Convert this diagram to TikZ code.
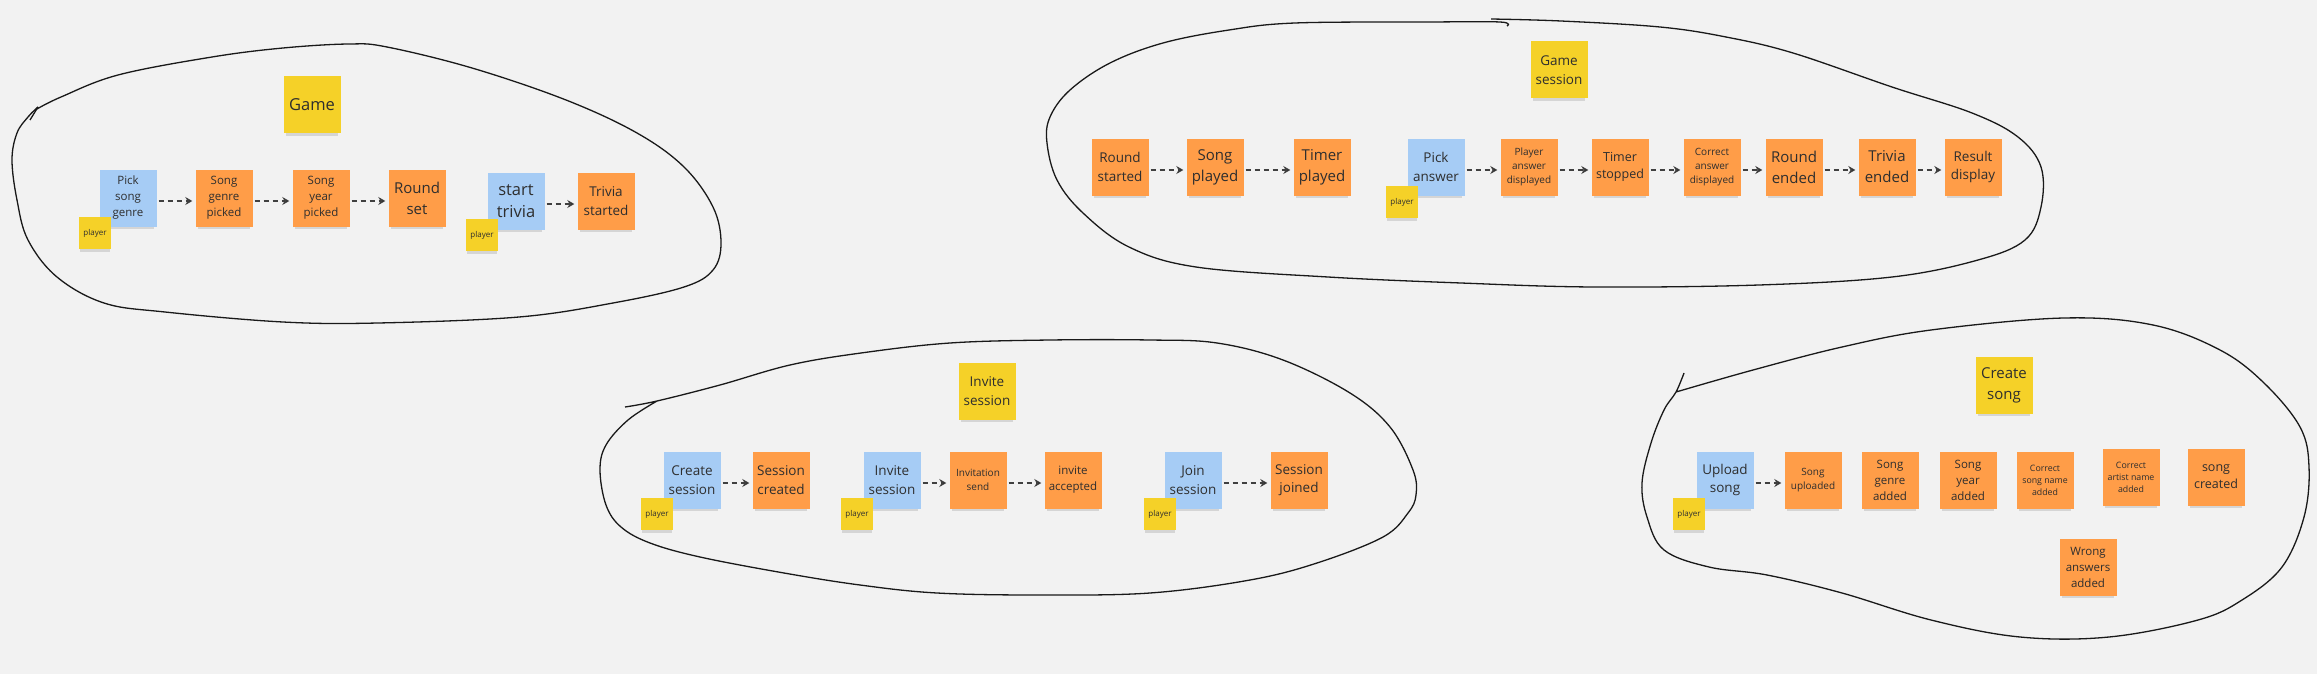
\documentclass[tikz,border=0pt]{standalone}
\usepackage{fontspec}
\setmainfont{Open Sans}
\usetikzlibrary{positioning,shadows,arrows.meta}

\definecolor{board}{HTML}{F2F2F2}
\definecolor{orangenote}{HTML}{FF9D48}
\definecolor{bluenote}{HTML}{A6CCF5}
\definecolor{yellownote}{HTML}{F5D128}
\definecolor{ink}{HTML}{2E2E2E}

\begin{document}
\begin{tikzpicture}[x=1pt,y=-1pt,node distance=96pt,
  >={Stealth[length=7pt,width=8pt]},
  note/.style={rectangle,minimum width=57pt,minimum height=57pt,inner sep=1pt,
    align=center,text=ink,
    drop shadow={shadow xshift=0pt,shadow yshift=-5pt,shadow scale=0.92,opacity=0.25}},
  event/.style={note,fill=orangenote},
  command/.style={note,fill=bluenote},
  aggregate/.style={note,fill=yellownote},
  actor/.style={note,fill=yellownote,minimum width=32pt,minimum height=32pt,
    font=\fontsize{8}{10}\selectfont},
  big text/.style={font=\fontsize{16.5}{21.5}\selectfont},
  large text/.style={font=\fontsize{15}{21}\selectfont},
  mid text/.style={font=\fontsize{13.5}{18.5}\selectfont},
  plain text/.style={font=\fontsize{12.5}{17}\selectfont},
  body text/.style={font=\fontsize{11.5}{16}\selectfont},
  small text/.style={font=\fontsize{10}{14.2}\selectfont},
  tiny text/.style={font=\fontsize{8.8}{12}\selectfont},
  flow/.style={->,dash pattern=on 5pt off 4pt,line width=1.4pt,draw=black!75,
    shorten >=3pt,shorten <=2pt,transform canvas={yshift=-3pt}},
  blob/.style={draw=black!90,line width=1.3pt}]

  \path[use as bounding box,fill=board] (0,0) rectangle (2317,674);

  % hand drawn borders
  \draw[blob] plot[smooth,tension=0.6] coordinates {(37,109) (61,97) (118,75)
    (212,57) (283,48) (349,44) (387,47) (472,68) (566,100) (637,133) (684,167)
    (713,207) (721,243) (713,270) (684,287) (613,303) (519,317) (378,323)
    (283,322) (165,312) (104,303) (57,277) (28,240) (17,200) (12,160) (17,133)
    (28,117) (38,107)};
  \draw[blob] (38,107) -- (30,120);

  \draw[blob] plot[smooth,tension=0.6] coordinates {(1491,19) (1561,21)
    (1660,27) (1726,37) (1793,53) (1892,87) (1972,113) (2018,137) (2041,167)
    (2041,207) (2025,240) (1978,260) (1892,277) (1759,285) (1594,287)
    (1461,283) (1328,277) (1196,267) (1129,247) (1083,213) (1057,180)
    (1047,143) (1050,117) (1070,90) (1110,63) (1163,43) (1229,30) (1295,23)
    (1428,22) (1500,22) (1507,26)};

  \draw[blob] plot[smooth,tension=0.6] coordinates {(625,407) (657,401)
    (720,385) (790,365) (861,353) (950,343) (1050,340) (1150,340) (1217,343)
    (1283,360) (1350,393) (1390,427) (1413,470) (1416,495) (1408,513)
    (1383,537) (1317,563) (1250,580) (1150,593) (1039,595) (937,593)
    (860,585) (784,573) (700,557) (650,543) (621,527) (606,505) (600,470)
    (606,445) (628,420) (657,401)};

  \draw[blob] plot[smooth,tension=0.6] coordinates {(1684,373) (1676,392)
    (1664,410) (1651,443) (1642,483) (1647,517) (1664,550) (1709,567)
    (1767,575) (1842,593) (1931,620) (2020,637) (2109,637) (2198,620)
    (2242,600) (2282,567) (2304,517) (2309,467) (2300,427) (2264,383)
    (2220,350) (2153,325) (2064,318) (1931,330) (1842,347) (1753,370)
    (1676,392)};

  % Game
  \node[aggregate,big text] (game) at (312,105) {Game};
  \node[command,body text] (pick) at (128,198) {Pick\\song\\genre};
  \node[event,body text] (genre) [right of=pick] {Song\\genre\\picked};
  \node[event,body text] (year) [node distance=97pt,right of=genre] {Song\\year\\picked};
  \node[event,large text] (round) [right of=year] {Round\\set};
  \node[command,big text] (start) [node distance=99pt,right of=round,yshift=-3pt] {start\\trivia};
  \node[event,mid text] (trivia) [node distance=90pt,right of=start] {Trivia\\started};
  \node[actor] (p1) at ([shift={(-33,35)}]pick) {player};
  \node[actor] (p2) at ([shift={(-34,34)}]start) {player};

  % Game session
  \node[aggregate,mid text] (gsession) at (1559,70) {Game\\session};
  \node[event,mid text] (rstart) at (1120,167) {Round\\started};
  \node[event,large text] (played) [node distance=95pt,right of=rstart] {Song\\played};
  \node[event,large text] (timer) [node distance=107pt,right of=played] {Timer\\played};
  \node[command,mid text] (answer) [node distance=114pt,right of=timer] {Pick\\answer};
  \node[event,small text] (shown) [node distance=93pt,right of=answer] {Player\\answer\\displayed};
  \node[event,plain text] (stopped) [node distance=91pt,right of=shown] {Timer\\stopped};
  \node[event,small text] (correct) [node distance=92pt,right of=stopped] {Correct\\answer\\displayed};
  \node[event,large text] (rended) [node distance=82pt,right of=correct] {Round\\ended};
  \node[event,large text] (tended) [node distance=93pt,right of=rended] {Trivia\\ended};
  \node[event,mid text] (result) [node distance=86pt,right of=tended] {Result\\display};
  \node[actor] (p3) at ([shift={(-34,35)}]answer) {player};

  % Invite session
  \node[aggregate,mid text] (isession) at (987,391) {Invite\\session};
  \node[command,mid text] (create) at (692,480) {Create\\session};
  \node[event,mid text] (created) [node distance=89pt,right of=create] {Session\\created};
  \node[command,mid text] (invite) [node distance=111pt,right of=created] {Invite\\session};
  \node[event,small text] (sent) [node distance=86pt,right of=invite] {Invitation\\send};
  \node[event,body text] (accepted) [node distance=95pt,right of=sent] {invite\\accepted};
  \node[command,mid text] (join) [node distance=120pt,right of=accepted] {Join\\session};
  \node[event,mid text] (joined) [node distance=106pt,right of=join] {Session\\joined};
  \node[actor] (p4) at ([shift={(-35,34)}]create) {player};
  \node[actor] (p5) at ([shift={(-35,34)}]invite) {player};
  \node[actor] (p6) at ([shift={(-33,34)}]join) {player};

  % Create song
  \node[aggregate,large text] (csong) at (2004,385) {Create\\song};
  \node[command,mid text] (upload) at (1725,480) {Upload\\song};
  \node[event,small text] (uploaded) [node distance=88pt,right of=upload] {Song\\uploaded};
  \node[event,body text] (gadded) [node distance=77pt,right of=uploaded] {Song\\genre\\added};
  \node[event,body text] (yadded) [node distance=78pt,right of=gadded] {Song\\year\\added};
  \node[event,tiny text] (sname) [node distance=77pt,right of=yadded] {Correct\\song name\\added};
  \node[event,tiny text] (aname) [node distance=86pt,right of=sname,yshift=3pt] {Correct\\artist name\\added};
  \node[event,plain text] (screated) [node distance=85pt,right of=aname] {song\\created};
  \node[event,body text] (wrong) at (2088,567) {Wrong\\answers\\added};
  \node[actor] (p7) at ([shift={(-36,34)}]upload) {player};

  \path[flow]
  (pick) edge (genre)
  (genre) edge (year)
  (year) edge (round)
  (start) edge (trivia)
  (rstart) edge (played)
  (played) edge (timer)
  (answer) edge (shown)
  (shown) edge (stopped)
  (stopped) edge (correct)
  (correct) edge (rended)
  (rended) edge (tended)
  (tended) edge (result)
  (create) edge (created)
  (invite) edge (sent)
  (sent) edge (accepted)
  (join) edge (joined)
  (upload) edge (uploaded);
\end{tikzpicture}
\end{document}
